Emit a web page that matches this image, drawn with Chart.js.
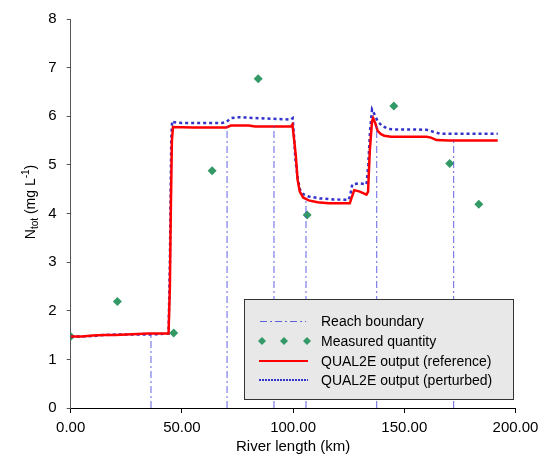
<!DOCTYPE html>
<html>
<head>
<meta charset="utf-8">
<script src="https://cdn.jsdelivr.net/npm/chart.js@4"></script>
<style>
  html, body { margin: 0; padding: 0; background: #fff; }
  #wrap { width: 555px; height: 461px; }
</style>
</head>
<body>
<div id="wrap"><canvas id="myChart" width="555" height="461"></canvas></div>
<script>
// tick labels
const xTicks = [0, 50, 100, 150, 200];
const yTicks = [0, 1, 2, 3, 4, 5, 6, 7, 8];

// reach boundaries (km) and the level each line reaches
const boundaryKm = [36.1, 70.3, 91.4, 105.8, 137.6, 172.2];
const boundaryTop = [1.52, 5.79, 5.79, 4.27, 5.8, 5.50];

// measured quantity
const measuredKm = [0, 21, 46.3, 63.6, 84.3, 106.3, 145.3, 170.4, 183.5];
const measuredVal = [1.47, 2.19, 1.54, 4.88, 6.77, 3.97, 6.21, 5.03, 4.19];

// QUAL2E output (reference)
const refKm = [0, 5, 10, 15, 20, 25, 30, 35, 40, 44, 44.6, 45, 45.5, 46, 55, 65, 70, 72, 80, 83, 95, 99, 99.7,
  100.5, 101.2, 102, 103, 104.5, 107, 111, 116, 122, 125.5, 126.5, 127.5, 130, 133, 133.7, 134.5, 135.5, 136,
  137, 138, 139.5, 141, 144, 150, 160, 162, 164.5, 170, 180, 192];
const refVal = [1.47, 1.47, 1.49, 1.50, 1.50, 1.51, 1.52, 1.53, 1.53, 1.53, 2.5, 4.0, 5.5, 5.78, 5.77, 5.77, 5.77, 5.81, 5.81, 5.79, 5.79, 5.79, 5.83,
  5.5, 5.2, 4.7, 4.45, 4.33, 4.27, 4.23, 4.21, 4.21, 4.21, 4.35, 4.48, 4.45, 4.39, 4.45, 5.3, 5.9, 5.96,
  5.85, 5.7, 5.63, 5.60, 5.58, 5.58, 5.58, 5.56, 5.51, 5.50, 5.50, 5.50];

// QUAL2E output (perturbed)
const pertKm = [0, 5, 10, 15, 20, 30, 36, 40, 44, 44.6, 45.2, 45.6, 46, 50, 60, 68, 70, 72, 75, 80, 85, 90, 95, 99, 99.8,
  100.4, 101, 102, 103, 104.5, 107, 112, 118, 125, 125.8, 126.6, 130, 133, 133.8, 134.6, 135.5, 136.5, 138, 140,
  143, 146, 155, 160, 163, 166, 175, 192];
const pertVal = [1.47, 1.47, 1.48, 1.50, 1.51, 1.51, 1.51, 1.52, 1.53, 3.0, 5.5, 5.9, 5.88, 5.86, 5.86, 5.86, 5.88, 5.96, 5.98, 5.97, 5.96, 5.95, 5.94, 5.93, 5.96,
  5.6, 5.13, 4.75, 4.5, 4.4, 4.35, 4.31, 4.29, 4.28, 4.4, 4.6, 4.62, 4.6, 5.0, 5.7, 6.14, 6.05, 5.9, 5.80,
  5.74, 5.73, 5.73, 5.72, 5.68, 5.64, 5.64, 5.64];

const FONT = '"Liberation Sans", Arial, sans-serif';
const boundaryColor = 'rgba(70, 70, 225, 0.85)';
const boundaryDash = [7, 3, 2, 3];
const greenColor = '#339966';
const redColor = '#ff0000';
const blueColor = '#3333cc';

function pairs(xs, ys) {
    return xs.map(function (x, i) { return { x: x, y: ys[i] }; });
}

// vertical lines, separated by gaps
const boundaryData = [];
boundaryKm.forEach(function (km, i) {
    boundaryData.push({ x: km, y: 0 });
    boundaryData.push({ x: km, y: boundaryTop[i] });
    boundaryData.push({ x: km, y: null });
});

const axisTitles = {
    id: 'axisTitles',
    afterDraw(chart) {
        const ctx = chart.ctx;
        const area = chart.chartArea;
        ctx.save();
        ctx.fillStyle = '#000';
        // x title
        ctx.font = '15px ' + FONT;
        ctx.textAlign = 'center';
        ctx.textBaseline = 'alphabetic';
        ctx.fillText('River length (km)', (area.left + area.right) / 2, 451);

        // y title with subscript and superscript
        const big = '14px ' + FONT;
        const small = '10px ' + FONT;
        const parts = [
            { t: 'N', f: big, dy: 0 },
            { t: 'tot', f: small, dy: 3 },
            { t: ' (mg L', f: big, dy: 0 },
            { t: '-1', f: small, dy: -6 },
            { t: ')', f: big, dy: 0 }
        ];
        let total = 0;
        parts.forEach(function (p) { ctx.font = p.f; p.w = ctx.measureText(p.t).width; total += p.w; });
        ctx.translate(35, 202);
        ctx.rotate(-Math.PI / 2);
        ctx.textAlign = 'left';
        let px = -total / 2;
        parts.forEach(function (p) {
            ctx.font = p.f;
            ctx.fillText(p.t, px, p.dy);
            px += p.w;
        });
        ctx.restore();
    }
};

const legendBox = {
    id: 'legendBox',
    afterDatasetsDraw(chart) {
        const ctx = chart.ctx;
        const x0 = 244, y0 = 299, w = 270, h = 101;
        ctx.save();
        ctx.fillStyle = '#e8e8e8';
        ctx.fillRect(x0, y0, w, h);
        ctx.strokeStyle = '#333';
        ctx.lineWidth = 1;
        ctx.strokeRect(x0 + 0.5, y0 + 0.5, w - 1, h - 1);

        const rows = [321, 341, 361, 380];
        const labels = ['Reach boundary', 'Measured quantity', 'QUAL2E output (reference)', 'QUAL2E output (perturbed)'];

        // reach boundary sample
        ctx.strokeStyle = boundaryColor;
        ctx.lineWidth = 1;
        ctx.setLineDash(boundaryDash);
        ctx.beginPath();
        ctx.moveTo(260, rows[0] + 0.5);
        ctx.lineTo(306, rows[0] + 0.5);
        ctx.stroke();

        // measured diamonds
        ctx.setLineDash([]);
        ctx.fillStyle = greenColor;
        [262, 284, 307].forEach(function (cx) {
            ctx.beginPath();
            ctx.moveTo(cx, rows[1] - 4);
            ctx.lineTo(cx + 4, rows[1]);
            ctx.lineTo(cx, rows[1] + 4);
            ctx.lineTo(cx - 4, rows[1]);
            ctx.closePath();
            ctx.fill();
        });

        // reference line sample
        ctx.strokeStyle = redColor;
        ctx.lineWidth = 2;
        ctx.beginPath();
        ctx.moveTo(259, rows[2]);
        ctx.lineTo(308, rows[2]);
        ctx.stroke();

        // perturbed line sample
        ctx.strokeStyle = blueColor;
        ctx.setLineDash([2, 1]);
        ctx.beginPath();
        ctx.moveTo(259, rows[3]);
        ctx.lineTo(308, rows[3]);
        ctx.stroke();
        ctx.setLineDash([]);

        ctx.fillStyle = '#000';
        ctx.font = '14px ' + FONT;
        ctx.textAlign = 'left';
        ctx.textBaseline = 'middle';
        labels.forEach(function (t, i) { ctx.fillText(t, 321, rows[i] + 1); });
        ctx.restore();
    }
};

const ctx = document.getElementById('myChart').getContext('2d');
const myChart = new Chart(ctx, {
    type: 'scatter',
    data: {
        datasets: [
            {
                label: 'Reach boundary',
                data: boundaryData,
                showLine: true,
                spanGaps: false,
                borderColor: boundaryColor,
                borderWidth: 1,
                borderDash: boundaryDash,
                pointRadius: 0
            },
            {
                label: 'QUAL2E output (reference)',
                data: pairs(refKm, refVal),
                showLine: true,
                borderColor: redColor,
                borderWidth: 2.5,
                pointRadius: 0
            },
            {
                label: 'QUAL2E output (perturbed)',
                data: pairs(pertKm, pertVal),
                showLine: true,
                borderColor: blueColor,
                borderWidth: 2.5,
                borderDash: [3, 3],
                pointRadius: 0
            },
            {
                label: 'Measured quantity',
                data: pairs(measuredKm, measuredVal),
                showLine: false,
                pointStyle: 'rectRot',
                pointRadius: 4.5,
                backgroundColor: greenColor,
                borderColor: greenColor,
                borderWidth: 0
            }
        ]
    },
    options: {
        responsive: false,
        animation: false,
        layout: {
            padding: { left: 0, top: 16, right: 39.5, bottom: 0 }
        },
        plugins: {
            legend: { display: false },
            tooltip: { enabled: false }
        },
        scales: {
            x: {
                type: 'linear',
                min: 0,
                max: 200,
                afterFit: function (scale) { scale.height = 53; },
                afterBuildTicks: function (scale) { scale.ticks = xTicks.map(function (v) { return { value: v }; }); },
                ticks: {
                    color: '#000',
                    font: { family: FONT, size: 15 },
                    padding: 6,
                    maxRotation: 0,
                    callback: function (v) { return v.toFixed(2); }
                },
                grid: { drawOnChartArea: false, drawTicks: true, tickLength: 5, color: '#000' },
                border: { display: true, color: '#000', width: 1 }
            },
            y: {
                min: 0,
                max: 8,
                afterFit: function (scale) { scale.width = 70.7; },
                afterBuildTicks: function (scale) { scale.ticks = yTicks.map(function (v) { return { value: v }; }); },
                ticks: {
                    color: '#000',
                    font: { family: FONT, size: 15 },
                    padding: 10
                },
                grid: { drawOnChartArea: false, drawTicks: true, tickLength: 4, color: '#555' },
                border: { display: true, color: '#555', width: 1 }
            }
        }
    },
    plugins: [legendBox, axisTitles]
});
</script>
</body>
</html>
